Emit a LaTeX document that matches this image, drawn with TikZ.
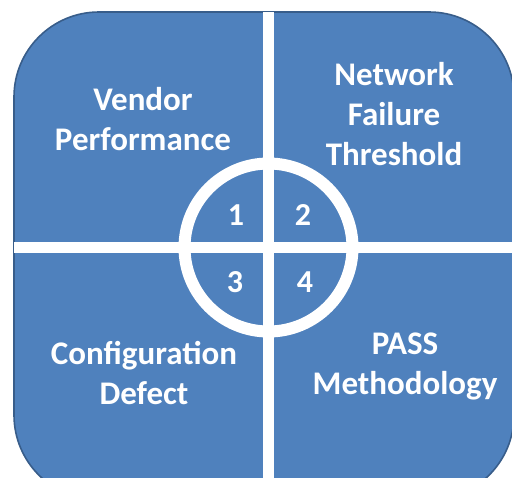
\documentclass[tikz,border=0pt]{standalone}
\usepackage{fontspec}
\setmainfont{Carlito}
\usetikzlibrary{positioning}

\definecolor{quadblue}{RGB}{79,129,189}
\definecolor{quadedge}{RGB}{56,93,138}

\begin{document}
\begin{tikzpicture}[
    x=0.5pt, y=-0.5pt,
    board/.style={draw=quadedge, line width=0.8pt, fill=quadblue,
        rounded corners=42.5pt, minimum width=250pt, minimum height=244pt,
        inner sep=0pt, outer sep=0pt},
    hub/.style={circle, draw=white, line width=6pt, minimum size=84pt,
        inner sep=0pt, outer sep=0pt},
    bar/.style={white, line width=5.5pt},
    quad/.style={text=white, align=center,
        font=\fontsize{16.5}{20}\selectfont\bfseries},
    num/.style={text=white, inner sep=0pt,
        font=\fontsize{16}{20}\selectfont\bfseries}
]
\useasboundingbox (0,0) rectangle (512,477);

\node[board] (board) at (264,256) {};
\node[hub] (hub) at (268.5,247.5) {};

% the cross through the hub
\draw[bar] (board.north -| hub) -- (board.south -| hub);
\draw[bar] (board.west |- hub) -- (board.east |- hub);

\node[quad] (vendor) at (143,119) {Vendor\\Performance};
\node[quad] (network) at (394,114) {Network\\Failure\\Threshold};
\node[quad] (config) at (144,373) {Configuration\\Defect};
\node[quad] (pass) at (405,366) {PASS\\Methodology};

\node[num] (n1) at (236,215) {1};
\node[num] (n2) at (303,215) {2};
\node[num] (n3) at (235,282) {3};
\node[num] (n4) at (305,282) {4};

\end{tikzpicture}
\end{document}
